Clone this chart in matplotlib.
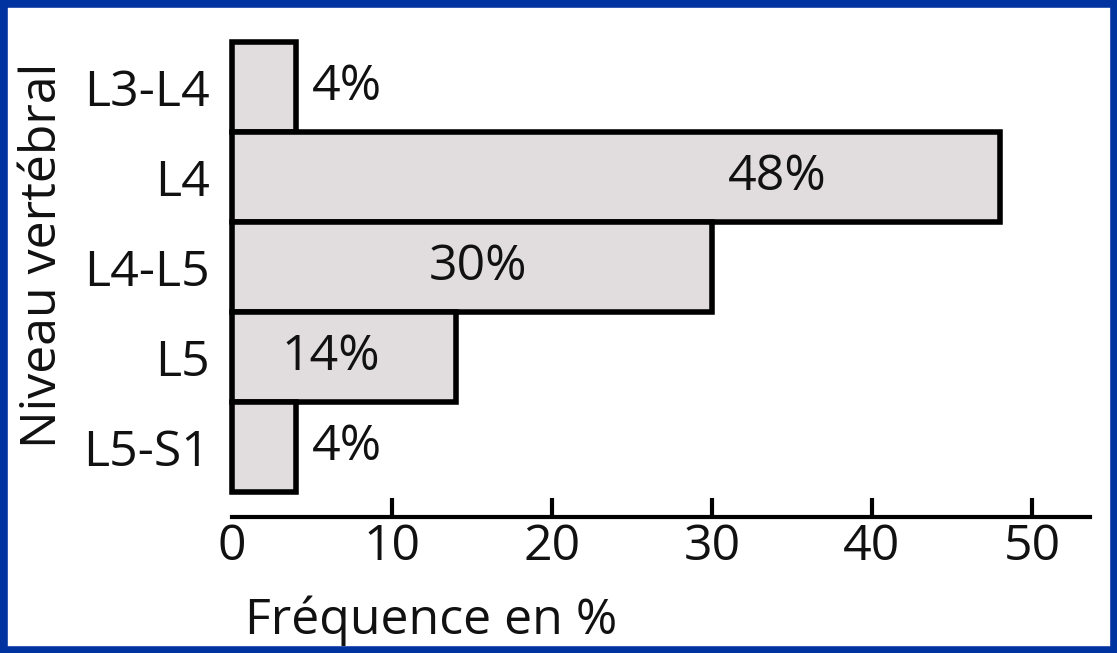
import matplotlib.pyplot as plt
from matplotlib.patches import Rectangle

# Vertebral level frequencies
levels = ['L3-L4', 'L4', 'L4-L5', 'L5', 'L5-S1']
freq = [4, 48, 30, 14, 4]
value_labels = ['4%', '48%', '30%', '14%', '4%']
x_ticks = [0, 10, 20, 30, 40, 50]

# where each value label sits (x in %, alignment)
label_x = [5.0, 34.1, 15.4, 6.2, 5.0]
label_ha = ['left', 'center', 'center', 'center', 'left']

plt.rcParams['font.family'] = ['Open Sans', 'DejaVu Sans']
FS = 36
TXT = '#111111'

fig = plt.figure(figsize=(11.17, 6.53), dpi=100)
ax = fig.add_axes([232 / 1117, 136 / 653, 858 / 1117, 475 / 653])

y = list(range(len(levels)))
ax.barh(y, freq, height=1.0, color='#e1dcdd', edgecolor='black',
        linewidth=4.0, clip_on=False, zorder=3)

for yi, xi, txt, ha in zip(y, label_x, value_labels, label_ha):
    ax.text(xi, yi, txt, ha=ha, va='center', fontsize=FS, color=TXT, zorder=4)

ax.set_xlim(0, 858 / 16)
ax.set_ylim(4.5 + 25 / 90, -0.5)

ax.set_yticks(y)
ax.set_yticklabels(levels, fontsize=FS, color=TXT)
ax.tick_params(axis='y', length=0, pad=16)

ax.set_xticks(x_ticks)
ax.set_xticklabels([str(t) for t in x_ticks], fontsize=FS, color=TXT)
ax.tick_params(axis='x', direction='in', length=13.7, width=3, pad=4)
ax.xaxis.get_major_ticks()[0].tick1line.set_visible(False)

for side in ['left', 'top', 'right']:
    ax.spines[side].set_visible(False)
ax.spines['bottom'].set_linewidth(3)

ax.set_xlabel('Fréquence en %', fontsize=FS, color=TXT)
ax.xaxis.set_label_coords(13 / 858, -78 / 475)
ax.xaxis.label.set_horizontalalignment('left')
ax.set_ylabel('Niveau vertébral', fontsize=FS, color=TXT)
ax.yaxis.set_label_coords(-164 / 858, 0.55)

# blue frame around the whole figure
fig.add_artist(Rectangle((0, 0), 1, 1, transform=fig.transFigure, fill=False,
                         edgecolor='#0033a0', linewidth=10.5))

fig.savefig('out.png', dpi=100)
